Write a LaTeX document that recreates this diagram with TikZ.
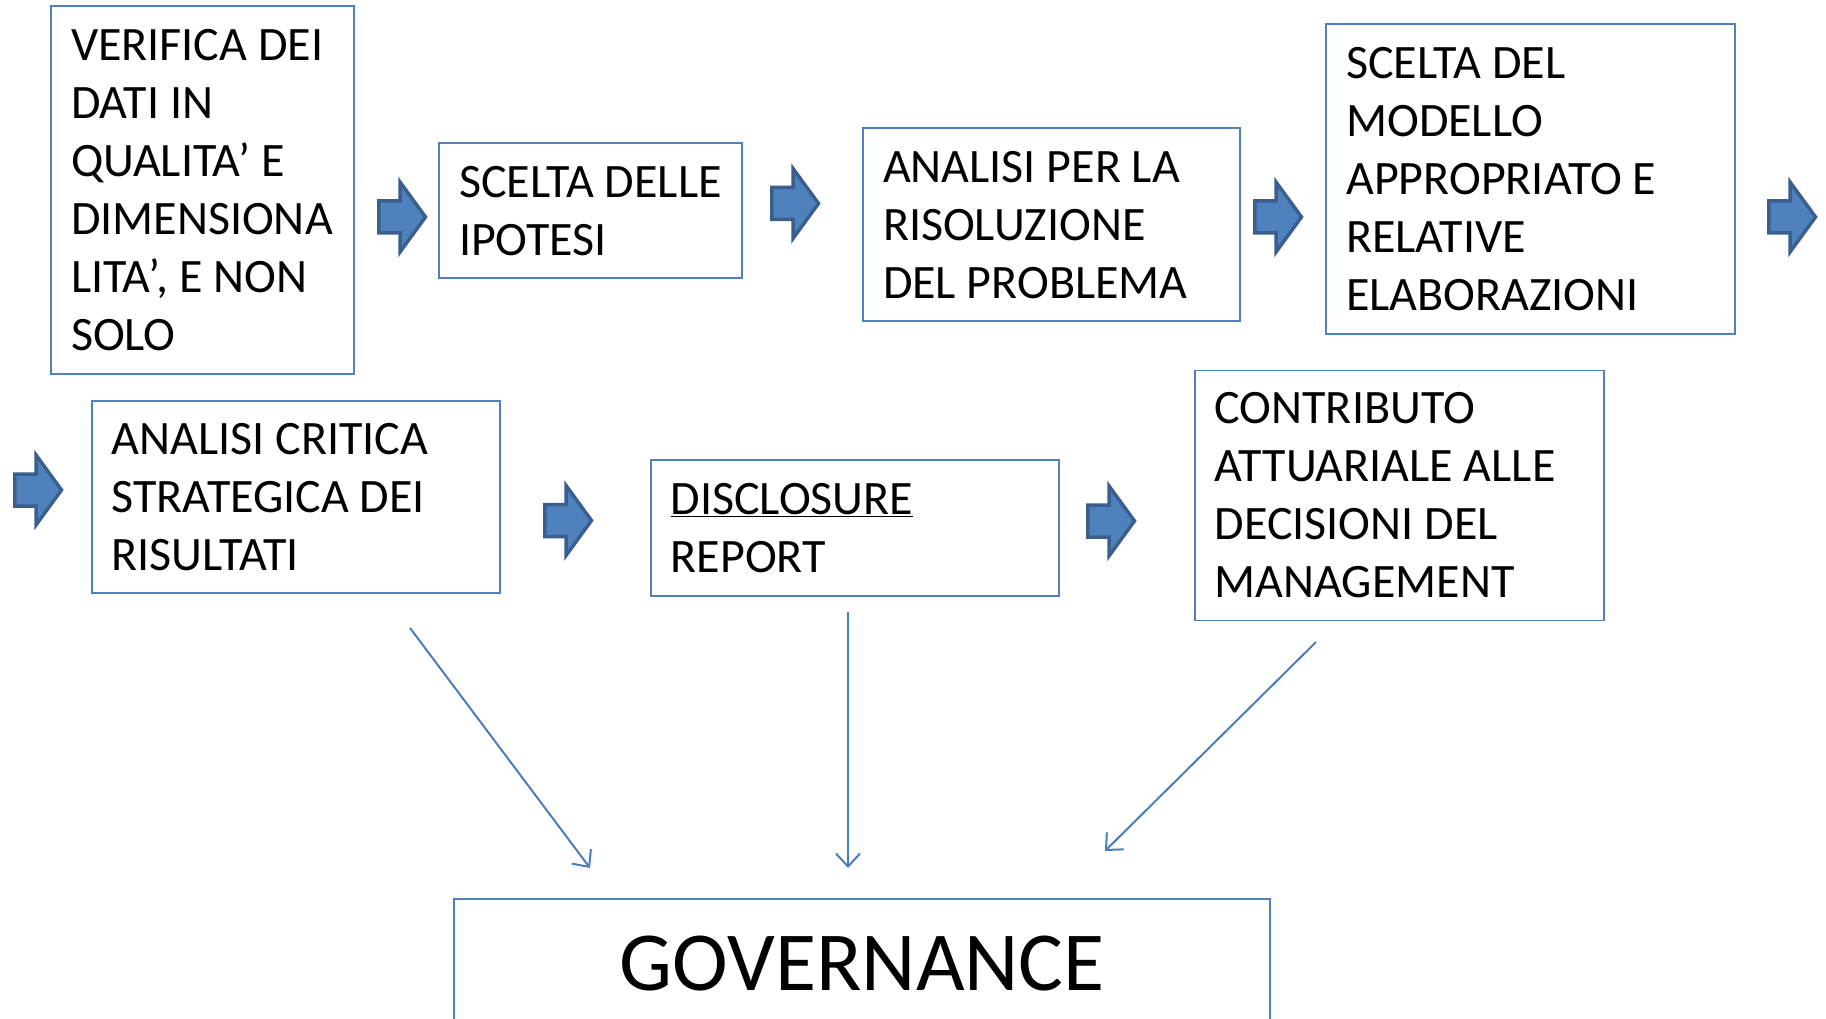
\documentclass[tikz,border=0pt]{standalone}
\usepackage{fontspec}
\setmainfont{Carlito}
\usetikzlibrary{arrows.meta}
\definecolor{boxline}{HTML}{4F81BD}
\definecolor{linkc}{HTML}{4A7EBB}
\definecolor{arrfill}{HTML}{4F81BD}
\definecolor{arrborder}{HTML}{3A5F8F}
\newcommand{\natsp}{\spaceskip=0pt\xspaceskip=0pt\relax}
\begin{document}
\begin{tikzpicture}[x=1pt,y=-1pt,
  stepbox/.style={draw=boxline, line width=1.8pt, fill=white, align=left,
    inner xsep=20pt, inner ysep=0pt, font=\fontsize{48}{58}\selectfont},
  govbox/.style={draw=boxline, line width=1.8pt, fill=white, inner sep=0pt},
  link/.style={draw=linkc, line width=2pt, -{Straight Barb[length=13pt,width=24pt,line width=2pt]}},
  barrow/.pic={\draw[fill=arrfill, draw=arrborder, line width=3.5pt, line join=miter]
     (1.75,-16) -- (23,-16) -- (23,-35) -- (48.5,0) -- (23,35) -- (23,16) -- (1.75,16) -- cycle;}
]
\useasboundingbox (0,0) rectangle (1826,1019);

\node[stepbox, minimum width=303pt, minimum height=368pt, text width=263pt] (b1) at (202.5,190)
  {\natsp VERIFICA DEI\\DATI IN\\QUALITA’ E\\DIMENSIONA\\LITA’, E NON\\SOLO};
\node[stepbox, minimum width=303pt, minimum height=135pt, text width=263pt] (b2) at (590.5,210.7)
  {\natsp\mbox{SCELTA DELLE}\\IPOTESI};
\node[stepbox, minimum width=377pt, minimum height=193pt, text width=337pt] (b3) at (1051.5,224.7)
  {\natsp ANALISI PER LA\\RISOLUZIONE\\\mbox{DEL PROBLEMA}};
\node[stepbox, minimum width=409pt, minimum height=310pt, text width=369pt] (b4) at (1530.7,179.3)
  {\natsp SCELTA DEL\\MODELLO\\APPROPRIATO E\\RELATIVE\\ELABORAZIONI};
\node[stepbox, minimum width=408pt, minimum height=192pt, text width=368pt] (b5) at (295.8,496.6)
  {\natsp ANALISI CRITICA\\STRATEGICA DEI\\RISULTATI};
\node[stepbox, minimum width=408pt, minimum height=136pt, text width=368pt] (b6) at (854.7,528.1)
  {\natsp\underline{DISCLOSURE}\\REPORT};
\node[stepbox, minimum width=409pt, minimum height=250pt, text width=369pt] (b7) at (1399.1,495.5)
  {\natsp CONTRIBUTO\\ATTUARIALE ALLE\\DECISIONI DEL\\MANAGEMENT};
\node[govbox, minimum width=816pt, minimum height=160pt] (b8) at (862.3,979) {};
\node[font=\fontsize{84}{100}\selectfont, anchor=base, inner sep=0pt] (gov) at (862.3,990) {GOVERNANCE};

\pic at (377,217) {barrow};
\pic at (770,203.5) {barrow};
\pic at (1253,217) {barrow};
\pic at (1767,217) {barrow};
\pic at (13,490) {barrow};
\pic at (543,520.5) {barrow};
\pic at (1086,521) {barrow};

\coordinate (s1) at (410,628);
\coordinate (e1) at (590,868);
\coordinate (s2) at (848,612);
\coordinate (e2) at (848,868);
\coordinate (s3) at (1316,642);
\coordinate (e3) at (1105,851);
\draw[link] (s1) -- (e1);
\draw[link] (s2) -- (e2);
\draw[link] (s3) -- (e3);
\end{tikzpicture}
\end{document}
